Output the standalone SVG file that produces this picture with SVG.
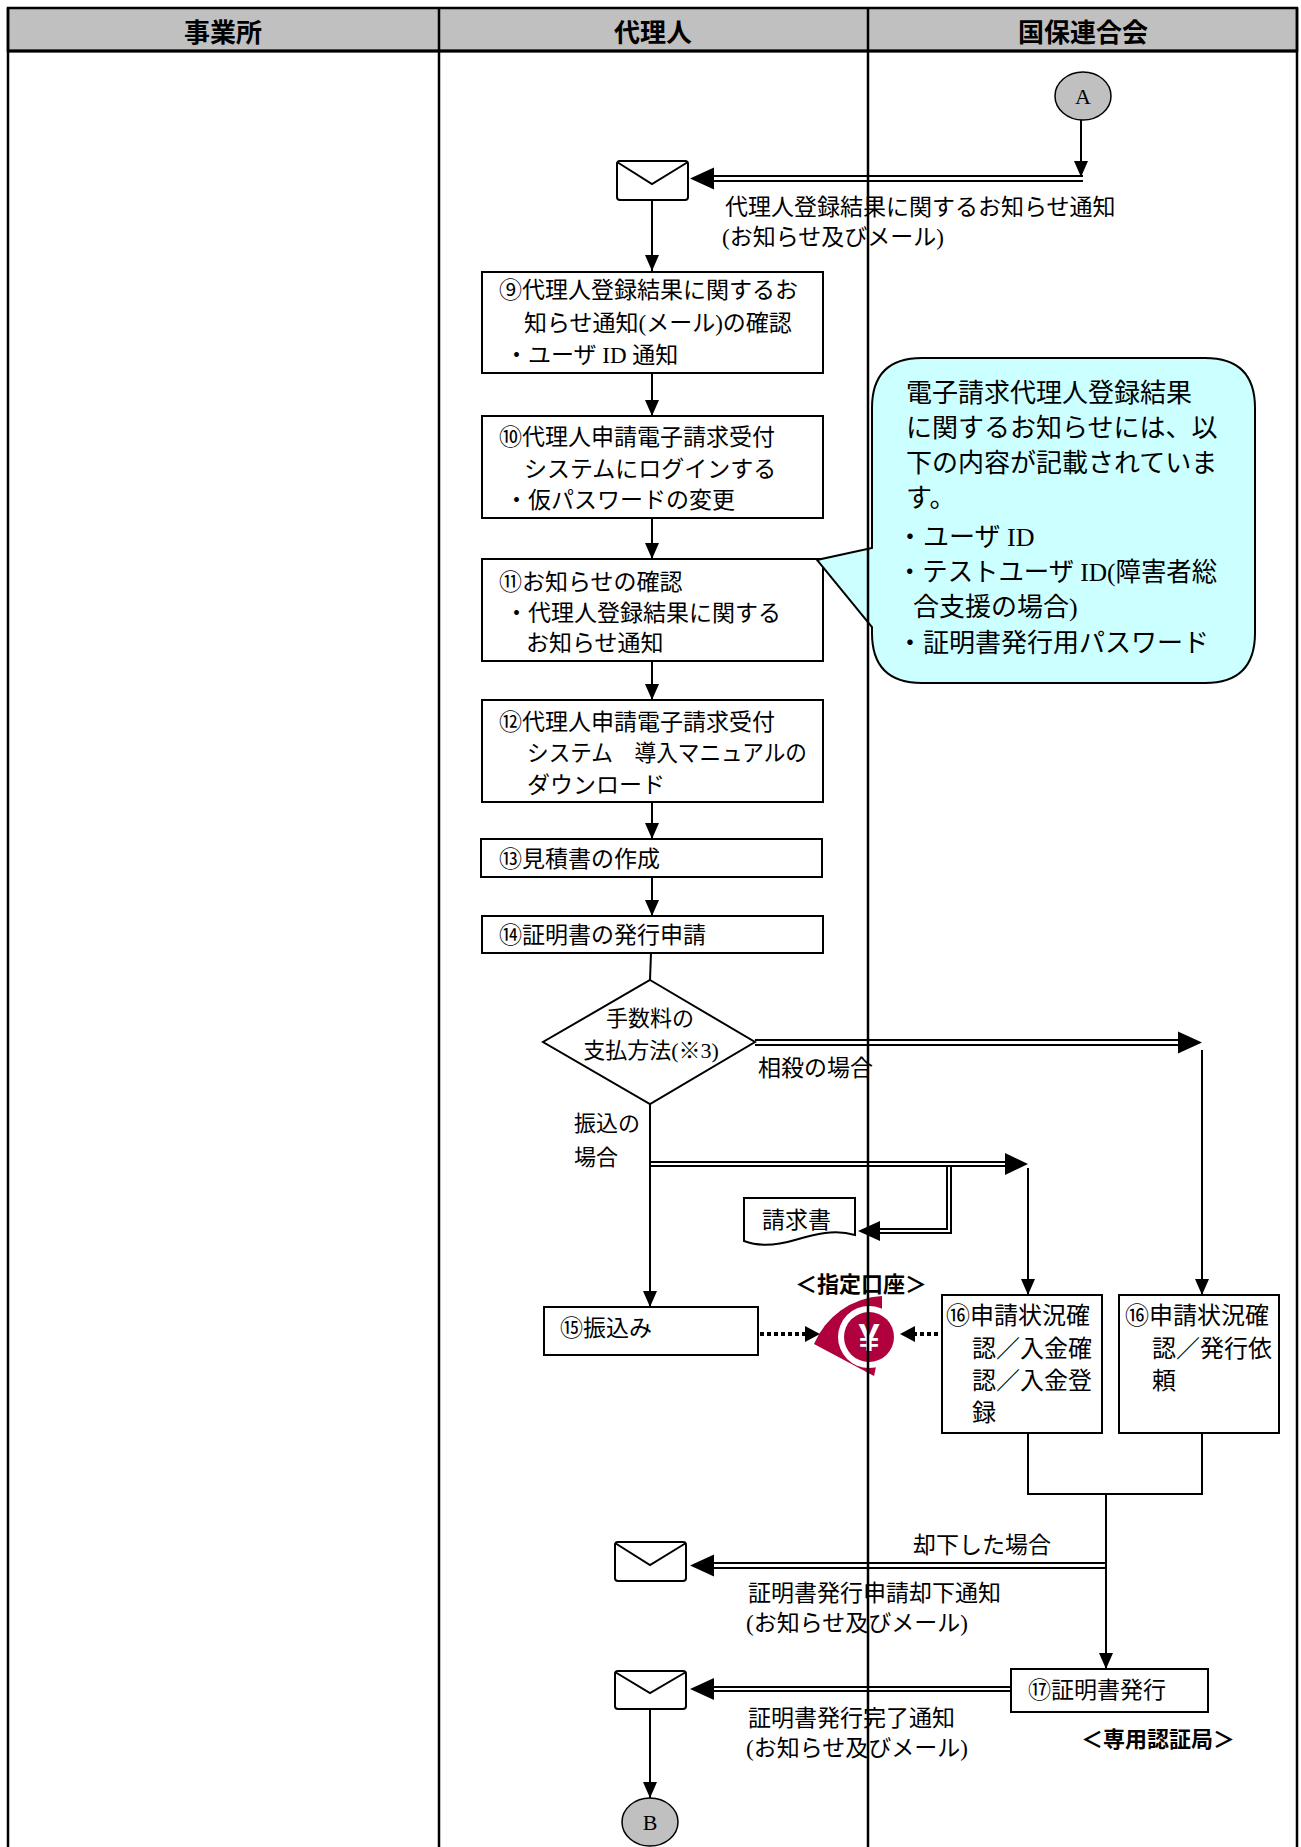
<svg xmlns="http://www.w3.org/2000/svg" width="1301" height="1847" viewBox="0 0 1301 1847">
<style>
.t{font-family:"Liberation Serif","Noto Sans CJK JP",serif;font-size:23px;fill:#000;dominant-baseline:central}
.c{font-family:"Liberation Serif","Noto Sans CJK JP",serif;font-size:26px;fill:#000;dominant-baseline:central}
.b16{font-family:"Liberation Serif","Noto Sans CJK JP",serif;font-size:24px;fill:#000;dominant-baseline:central}
.h{font-family:"Noto Sans CJK JP",sans-serif;font-size:26px;font-weight:bold;fill:#000;text-anchor:middle;dominant-baseline:central}
.bt{font-family:"Noto Sans CJK JP",sans-serif;font-size:22px;font-weight:bold;fill:#000;dominant-baseline:central}
.mid{text-anchor:middle}
.box{fill:#fff;stroke:#000;stroke-width:2}
.env{fill:#fff;stroke:#000;stroke-width:2}
.conn{fill:none;stroke:#000;stroke-width:2}
.dbl{fill:none;stroke:#000;stroke-width:2}
.dot{fill:none;stroke:#000;stroke-width:4;stroke-dasharray:4 3}
.ah{fill:#000}
.lane{stroke:#000;stroke-width:2.5}
.circ{fill:#c0c0c0;stroke:#000;stroke-width:1.5}
</style>
<defs>
<marker id="arr" markerUnits="userSpaceOnUse" markerWidth="16" markerHeight="16" refX="16" refY="7" orient="auto">
<path d="M0,0 L16,7 L0,14 Z" fill="#000"/>
</marker>
</defs>

<g id="header">
<rect x="8" y="8" width="1289" height="43" fill="#c0c0c0" stroke="#000" stroke-width="2.5"/>
<line x1="8" y1="51" x2="1297" y2="51" stroke="#000" stroke-width="3"/>
<text class="h" x="223" y="30">事業所</text>
<text class="h" x="653" y="30">代理人</text>
<text class="h" x="1083" y="30">国保連合会</text>
</g>

<g id="connectors">
<line class="conn" x1="1081" y1="120" x2="1081" y2="177" marker-end="url(#arr)"/>
<path class="dbl" d="M1083,176 H712 M1083,181 H712"/>
<polygon class="ah" points="690,178.5 714,167.5 714,189.5"/>
<line class="conn" x1="652" y1="200" x2="652" y2="271" marker-end="url(#arr)"/>
<line class="conn" x1="652" y1="373" x2="652" y2="416" marker-end="url(#arr)"/>
<line class="conn" x1="652" y1="518" x2="652" y2="559" marker-end="url(#arr)"/>
<line class="conn" x1="652" y1="661" x2="652" y2="700" marker-end="url(#arr)"/>
<line class="conn" x1="652" y1="802" x2="652" y2="839" marker-end="url(#arr)"/>
<line class="conn" x1="652" y1="877" x2="652" y2="916" marker-end="url(#arr)"/>
<line class="conn" x1="651" y1="953" x2="650" y2="980"/>
<line class="conn" x1="650" y1="1104" x2="650" y2="1307" marker-end="url(#arr)"/>
<path class="dbl" d="M755,1040 H1180 M755,1045 H1180"/>
<polygon class="ah" points="1202,1042.5 1178,1031.5 1178,1053.5"/>
<line class="conn" x1="1202" y1="1050" x2="1202" y2="1295" marker-end="url(#arr)"/>
<path class="dbl" d="M651,1162 H1007 M651,1166 H1007"/>
<polygon class="ah" points="1028,1164 1005,1153 1005,1175"/>
<line class="conn" x1="1028" y1="1168" x2="1028" y2="1295" marker-end="url(#arr)"/>
<path class="dbl" d="M947,1166 V1229 H878 M951,1166 V1233 H878"/>
<polygon class="ah" points="858,1231 880,1221 880,1241"/>
<line class="dot" x1="760" y1="1334" x2="806" y2="1334"/>
<polygon class="ah" points="820,1334 805,1326 805,1342"/>
<line class="dot" x1="938" y1="1334" x2="914" y2="1334"/>
<polygon class="ah" points="900,1334 915,1326 915,1342"/>
<polyline class="conn" points="1028,1433 1028,1494 1202,1494 1202,1433"/>
<line class="conn" x1="1106" y1="1494" x2="1106" y2="1669" marker-end="url(#arr)"/>
<path class="dbl" d="M1106,1563 H712 M1106,1568 H712"/>
<polygon class="ah" points="690,1565.5 714,1554.5 714,1576.5"/>
<path class="dbl" d="M1011,1687 H712 M1011,1691 H712"/>
<polygon class="ah" points="690,1689 714,1678 714,1700"/>
<line class="conn" x1="650" y1="1709" x2="650" y2="1798" marker-end="url(#arr)"/>
</g>

<g id="nodeA">
<ellipse class="circ" cx="1083" cy="96" rx="28" ry="24"/>
<text class="t mid" x="1083" y="96" style="font-size:22px">A</text>
</g>

<g id="mail1">
<rect class="env" x="617" y="161" width="71" height="39" rx="3"/>
<polyline class="conn" points="617,162 652,184 688,162"/>
</g>
<text class="t" x="725" y="207">代理人登録結果に関するお知らせ通知</text>
<text class="t" x="722" y="237">(お知らせ及びメール)</text>

<g id="box9">
<rect class="box" x="482" y="272" width="341" height="101"/>
<text class="t" x="499" y="290">⑨代理人登録結果に関するお</text>
<text class="t" x="524" y="323">知らせ通知(メール)の確認</text>
<text class="t" x="505" y="355">・ユーザ ID 通知</text>
</g>

<g id="box10">
<rect class="box" x="482" y="416" width="341" height="102"/>
<text class="t" x="499" y="437">⑩代理人申請電子請求受付</text>
<text class="t" x="524" y="469">システムにログインする</text>
<text class="t" x="505" y="500">・仮パスワードの変更</text>
</g>

<g id="box11">
<rect class="box" x="482" y="559" width="341" height="102"/>
<text class="t" x="499" y="582">⑪お知らせの確認</text>
<text class="t" x="505" y="613">・代理人登録結果に関する</text>
<text class="t" x="526" y="643">お知らせ通知</text>
</g>

<g id="callout">
<path d="M922,358 H1205 Q1255,358 1255,408 V633 Q1255,683 1205,683 H922 Q872,683 872,633 V627 L817,560 L872,548 V408 Q872,358 922,358 Z" fill="#ccffff" stroke="#000" stroke-width="2"/>
<text class="c" x="906" y="393">電子請求代理人登録結果</text>
<text class="c" x="906" y="428">に関するお知らせには、以</text>
<text class="c" x="906" y="463">下の内容が記載されていま</text>
<text class="c" x="906" y="498">す。</text>
<text class="c" x="897" y="537">・ユーザ ID</text>
<text class="c" x="897" y="572" textLength="320" lengthAdjust="spacingAndGlyphs">・テストユーザ ID(障害者総</text>
<text class="c" x="913" y="607">合支援の場合)</text>
<text class="c" x="897" y="643">・証明書発行用パスワード</text>
</g>

<g id="box12">
<rect class="box" x="482" y="700" width="341" height="102"/>
<text class="t" x="499" y="722">⑫代理人申請電子請求受付</text>
<text class="t" x="527" y="753" textLength="280" lengthAdjust="spacingAndGlyphs">システム　導入マニュアルの</text>
<text class="t" x="527" y="785">ダウンロード</text>
</g>

<g id="box13">
<rect class="box" x="481" y="839" width="341" height="38"/>
<text class="t" x="499" y="859">⑬見積書の作成</text>
</g>

<g id="box14">
<rect class="box" x="482" y="916" width="341" height="37"/>
<text class="t" x="499" y="935">⑭証明書の発行申請</text>
</g>

<g id="decision">
<polygon class="box" points="650,980 755,1042 650,1104 543,1042"/>
<text class="t mid" x="650" y="1018" style="font-size:22px">手数料の</text>
<text class="t mid" x="651" y="1050" style="font-size:22px">支払方法(※3)</text>
</g>
<text class="t" x="758" y="1068">相殺の場合</text>
<text class="t" x="574" y="1123" style="font-size:22px">振込の</text>
<text class="t" x="574" y="1157" style="font-size:22px">場合</text>

<g id="invoice">
<path d="M744,1198 H855 V1235 C835,1229 815,1234 795,1240 C775,1246 757,1246 744,1241 Z" fill="#fff" stroke="#000" stroke-width="2"/>
<text class="t" x="762" y="1220">請求書</text>
</g>

<g id="box15">
<rect class="box" x="544" y="1307" width="214" height="48"/>
<text class="t" x="560" y="1328">⑮振込み</text>
</g>

<g id="account">
<text class="bt mid" x="861" y="1282">＜指定口座＞</text>
<path d="M882,1296 A78,78 0 0 0 814,1344 L874,1376 L882,1340 Z" fill="#b0003e"/>
<circle cx="869" cy="1337" r="31" fill="#fff"/>
<circle cx="869" cy="1337" r="25" fill="#b0003e"/>
<text x="869" y="1338" text-anchor="middle" dominant-baseline="central" style="font-family:'Liberation Sans',sans-serif;font-weight:bold;font-size:38px;fill:#fff">¥</text>
</g>

<g id="box16a">
<rect class="box" x="942" y="1295" width="160" height="138"/>
<text class="b16" x="946" y="1316">⑯申請状況確</text>
<text class="b16" x="972" y="1349">認／入金確</text>
<text class="b16" x="972" y="1381">認／入金登</text>
<text class="b16" x="972" y="1413">録</text>
</g>

<g id="box16b">
<rect class="box" x="1119" y="1295" width="160" height="138"/>
<text class="b16" x="1125" y="1316">⑯申請状況確</text>
<text class="b16" x="1152" y="1349">認／発行依</text>
<text class="b16" x="1152" y="1381">頼</text>
</g>

<text class="t" x="913" y="1545">却下した場合</text>
<g id="mail2">
<rect class="env" x="615" y="1542" width="71" height="39" rx="3"/>
<polyline class="conn" points="615,1543 650,1565 686,1543"/>
</g>
<text class="t" x="748" y="1593">証明書発行申請却下通知</text>
<text class="t" x="746" y="1623">(お知らせ及びメール)</text>

<g id="box17">
<rect class="box" x="1011" y="1669" width="197" height="43"/>
<text class="t" x="1028" y="1690">⑰証明書発行</text>
</g>
<text class="bt" x="1081" y="1737">＜専用認証局＞</text>

<g id="mail3">
<rect class="env" x="615" y="1671" width="71" height="38" rx="3"/>
<polyline class="conn" points="615,1672 650,1693 686,1672"/>
</g>
<text class="t" x="748" y="1718">証明書発行完了通知</text>
<text class="t" x="746" y="1748">(お知らせ及びメール)</text>

<g id="nodeB">
<ellipse class="circ" cx="650" cy="1822" rx="28" ry="24"/>
<text class="t mid" x="650" y="1822" style="font-size:22px">B</text>
</g>

<g id="lanes">
<line class="lane" x1="8" y1="8" x2="8" y2="1847"/>
<line class="lane" x1="439" y1="8" x2="439" y2="1847"/>
<line class="lane" x1="868" y1="8" x2="868" y2="1847"/>
<line class="lane" x1="1297" y1="8" x2="1297" y2="1847"/>
</g>
</svg>
